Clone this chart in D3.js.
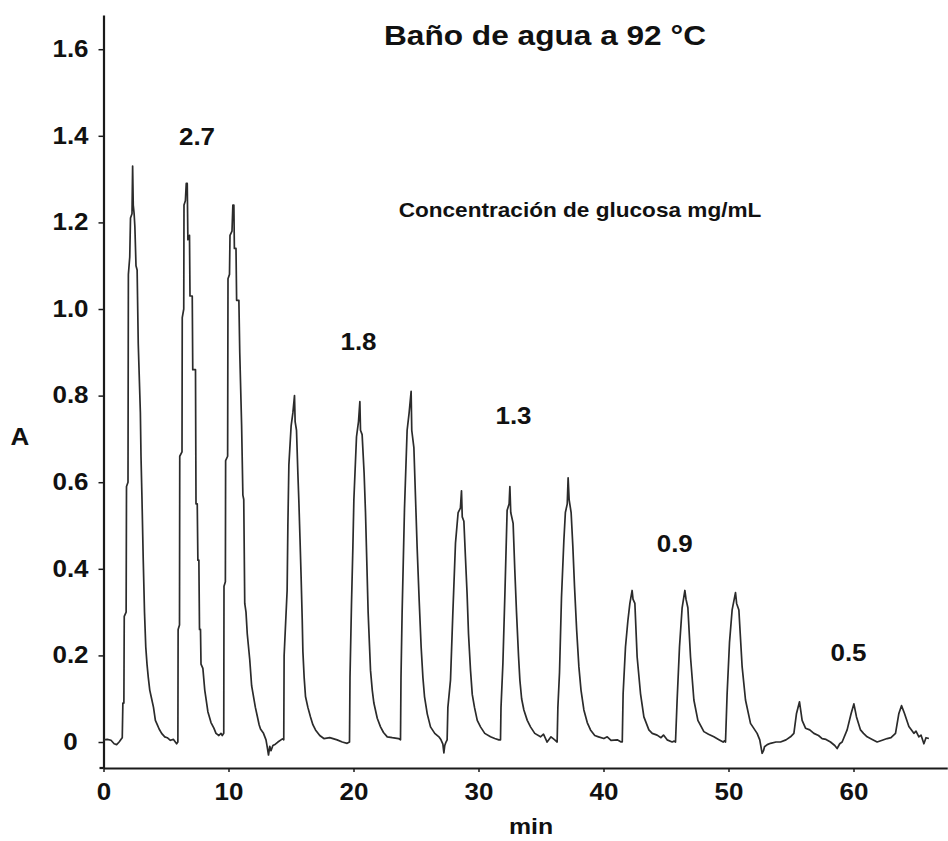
<!DOCTYPE html>
<html>
<head>
<meta charset="utf-8">
<script src="https://cdn.jsdelivr.net/npm/d3@7"></script>
<style>
  html, body { margin: 0; padding: 0; background: #fff; }
  svg { display: block; }
  text { font-family: "Liberation Sans", Arial, sans-serif; font-weight: bold; fill: #111; }
</style>
</head>
<body>
<svg id="chart" width="948" height="841"></svg>
<script>
// ---------------- data ----------------
const titleText = "Baño de agua a 92 °C";
const subtitleText = "Concentración de glucosa mg/mL";
const yAxisLabel = "A";
const xAxisLabel = "min";

const xTicks = [0, 10, 20, 30, 40, 50, 60];
const xTickLabels = ["0", "10", "20", "30", "40", "50", "60"];
const yTicks = [0, 0.2, 0.4, 0.6, 0.8, 1.0, 1.2, 1.4, 1.6];
const yTickLabels = ["0", "0.2", "0.4", "0.6", "0.8", "1.0", "1.2", "1.4", "1.6"];

// concentration annotations: [label, time (min), absorbance]
const concLabels = ["2.7", "1.8", "1.3", "0.9", "0.5"];
const concTime = [7.48, 20.4, 32.8, 45.7, 59.6];
const concAbs = [1.379, 0.905, 0.734, 0.439, 0.187];

// trace segments: [time (min), absorbance]
const baseline0 = [[0,0.005],[0.3,0.006],[0.6,0.004],[0.85,-0.004],[1.05,-0.006],[1.25,0.0],[1.45,0.008]];
const peak1 = [[1.5,0.01],[1.55,0.09],[1.63,0.09],[1.66,0.29],[1.81,0.30],[1.84,0.59],[1.96,0.60],[1.99,1.08],[2.1,1.12],[2.16,1.21],[2.28,1.22],[2.33,1.33],[2.38,1.24],[2.45,1.22],[2.51,1.19],[2.6,1.10],[2.69,1.09],[2.78,0.92],[2.95,0.76],[3.0,0.66],[3.08,0.56],[3.18,0.42],[3.28,0.30],[3.38,0.22],[3.48,0.18],[3.58,0.15],[3.7,0.12],[3.85,0.10],[4.0,0.08],[4.15,0.05],[4.3,0.04],[4.45,0.03],[4.65,0.02],[4.9,0.012],[5.1,0.01],[5.35,0.004],[5.6,0.006],[5.85,-0.004]];
const peak2 = [[5.95,0.0],[5.97,0.26],[6.08,0.27],[6.1,0.66],[6.28,0.67],[6.3,0.98],[6.42,1.0],[6.44,1.24],[6.55,1.25],[6.62,1.29],[6.7,1.29],[6.75,1.16],[6.88,1.17],[6.92,1.03],[7.1,1.03],[7.14,0.86],[7.36,0.86],[7.4,0.55],[7.5,0.55],[7.55,0.42],[7.63,0.42],[7.68,0.26],[7.76,0.26],[7.8,0.18],[7.95,0.17],[8.1,0.12],[8.2,0.10],[8.35,0.07],[8.45,0.06],[8.6,0.045],[8.83,0.032],[9.0,0.02],[9.23,0.015],[9.4,0.02]];
const peak3 = [[9.5,0.015],[9.62,0.02],[9.64,0.36],[9.75,0.37],[9.77,0.65],[9.93,0.66],[9.96,1.07],[10.08,1.08],[10.12,1.17],[10.28,1.18],[10.35,1.24],[10.43,1.24],[10.47,1.14],[10.6,1.14],[10.65,1.02],[10.83,1.02],[10.9,0.9],[11.05,0.73],[11.15,0.57],[11.22,0.56],[11.3,0.32],[11.4,0.30],[11.5,0.25],[11.7,0.19],[11.85,0.13],[11.97,0.11],[12.15,0.08],[12.3,0.06],[12.45,0.04],[12.56,0.03],[12.8,0.02],[13.0,0.005],[13.1,-0.012],[13.2,-0.03],[13.3,-0.01],[13.4,-0.02],[13.55,-0.008],[13.75,-0.005],[13.95,0.0],[14.2,0.005],[14.4,0.008]];
const peak4 = [[14.42,0.005],[14.45,0.2],[14.69,0.35],[14.75,0.5],[14.83,0.64],[15.01,0.73],[15.15,0.76],[15.28,0.80],[15.33,0.74],[15.44,0.72],[15.55,0.62],[15.63,0.555],[15.72,0.47],[15.81,0.38],[15.9,0.28],[15.95,0.21],[16.05,0.15],[16.16,0.105],[16.35,0.08],[16.56,0.058],[16.75,0.04],[16.96,0.028],[17.3,0.015],[17.63,0.008],[18.1,0.01],[18.69,0.005],[19.1,0.0],[19.49,-0.003]];
const peak5 = [[19.68,0.0],[19.72,0.15],[19.84,0.32],[19.95,0.45],[20.03,0.56],[20.24,0.705],[20.4,0.74],[20.51,0.786],[20.56,0.72],[20.69,0.71],[20.85,0.62],[20.96,0.53],[21.07,0.41],[21.17,0.30],[21.36,0.166],[21.5,0.12],[21.63,0.09],[21.9,0.055],[22.16,0.035],[22.4,0.022],[22.7,0.012],[23.1,0.01],[23.6,0.008]];
const peak6 = [[23.76,0.005],[23.8,0.15],[23.89,0.30],[24.08,0.54],[24.29,0.72],[24.45,0.76],[24.61,0.81],[24.66,0.72],[24.83,0.68],[25.0,0.53],[25.09,0.45],[25.25,0.33],[25.41,0.22],[25.55,0.15],[25.68,0.105],[25.9,0.065],[26.16,0.035],[26.5,0.02],[26.83,0.012],[27.0,0.005],[27.15,-0.005],[27.23,-0.025],[27.3,-0.008],[27.4,0.0]];
const peak7 = [[27.49,0.005],[27.55,0.08],[27.76,0.143],[27.95,0.30],[28.16,0.46],[28.37,0.53],[28.55,0.54],[28.64,0.58],[28.7,0.52],[28.83,0.51],[28.95,0.43],[29.09,0.34],[29.2,0.25],[29.36,0.166],[29.5,0.11],[29.68,0.08],[29.9,0.05],[30.16,0.035],[30.5,0.02],[30.96,0.012],[31.3,0.008],[31.63,0.005]];
const peak8 = [[31.76,0.005],[31.8,0.08],[31.95,0.18],[32.11,0.34],[32.29,0.535],[32.45,0.55],[32.51,0.59],[32.58,0.53],[32.77,0.505],[32.9,0.40],[33.04,0.30],[33.2,0.2],[33.31,0.143],[33.45,0.1],[33.63,0.074],[33.9,0.05],[34.16,0.035],[34.5,0.02],[34.96,0.012],[35.2,0.018],[35.49,0.0],[35.8,0.012],[36.1,0.005]];
const peak9 = [[36.29,0.0],[36.35,0.08],[36.48,0.16],[36.64,0.335],[36.83,0.466],[36.95,0.53],[37.1,0.55],[37.17,0.61],[37.25,0.56],[37.41,0.53],[37.55,0.45],[37.68,0.36],[37.85,0.26],[38.03,0.174],[38.2,0.12],[38.43,0.074],[38.7,0.045],[38.96,0.028],[39.3,0.015],[39.6,0.012],[40.03,0.008],[40.3,0.012],[40.6,0.004],[41.1,0.005],[41.41,0.0]];
const peak10 = [[41.5,0.0],[41.57,0.112],[41.76,0.22],[41.95,0.28],[42.11,0.32],[42.29,0.35],[42.36,0.33],[42.51,0.32],[42.69,0.197],[42.96,0.112],[43.23,0.058],[43.63,0.028],[43.9,0.02],[44.29,0.016],[44.6,0.01],[44.8,0.016],[45.09,0.005],[45.49,0.0],[45.65,0.002]];
const peak11 = [[45.76,0.0],[45.89,0.097],[46.08,0.22],[46.29,0.31],[46.51,0.35],[46.6,0.33],[46.75,0.31],[46.96,0.197],[47.23,0.097],[47.55,0.05],[48.03,0.024],[48.4,0.018],[48.83,0.012],[49.2,0.006],[49.57,0.0],[49.7,0.003]];
const peak12 = [[49.76,0.0],[49.89,0.112],[50.08,0.23],[50.29,0.305],[50.56,0.345],[50.65,0.32],[50.83,0.305],[51.09,0.174],[51.36,0.097],[51.76,0.043],[52.29,0.02],[52.5,0.005],[52.69,-0.026],[52.8,-0.02],[52.88,-0.011],[53.1,-0.006],[53.36,-0.003],[53.8,0.0],[54.16,0.0],[54.6,0.005],[54.96,0.012]];
const peak13 = [[55.23,0.02],[55.44,0.066],[55.68,0.093],[55.89,0.05],[56.16,0.032],[56.5,0.028],[56.83,0.02],[57.2,0.015],[57.49,0.008],[57.8,0.006],[58.16,0.0],[58.5,-0.008],[58.69,-0.015],[58.9,-0.004],[59.09,0.0],[59.49,0.028]];
const peak14 = [[59.81,0.066],[60.03,0.088],[60.24,0.058],[60.56,0.028],[60.8,0.02],[61.09,0.012],[61.5,0.006],[61.89,0.0],[62.3,0.004],[62.69,0.008],[63.0,0.01],[63.36,0.02]];
const peak15 = [[63.63,0.066],[63.84,0.084],[64.08,0.066],[64.43,0.036],[64.83,0.02],[65.0,0.025],[65.23,0.012],[65.4,0.016],[65.63,-0.004],[65.8,0.01],[66.03,0.008]];

const trace = [].concat(baseline0, peak1, peak2, peak3, peak4, peak5, peak6, peak7, peak8,
                        peak9, peak10, peak11, peak12, peak13, peak14, peak15);

// ---------------- drawing ----------------
const svg = d3.select("#chart");
const SX = 1.13; // horizontal stretch of lettering

const x = d3.scaleLinear().domain([0, 67.5]).range([103.5, 947.25]);
const y = d3.scaleLinear().domain([-0.06, 1.679]).range([768, 15]);

const axisColor = "#1a1a1a";

// X axis
const gx = svg.append("g")
  .attr("transform", `translate(0,${y.range()[0]})`)
  .call(d3.axisBottom(x).tickValues(xTicks).tickFormat((d, i) => xTickLabels[i])
        .tickSizeInner(4).tickSizeOuter(0).tickPadding(12));
gx.select(".domain").attr("stroke", axisColor).attr("stroke-width", 2.2);
gx.selectAll(".tick line").attr("stroke", axisColor).attr("stroke-width", 1.5);
gx.selectAll(".tick text")
  .attr("font-size", 23).attr("font-family", null)
  .attr("fill", "#111")
  .attr("transform", `scale(${SX},1)`);

// Y axis
const gy = svg.append("g")
  .attr("transform", `translate(${x(0)},0)`)
  .call(d3.axisLeft(y).tickValues(yTicks).tickFormat((d, i) => yTickLabels[i])
        .tickSizeInner(5).tickSizeOuter(0).tickPadding(14));
gy.select(".domain").attr("stroke", axisColor).attr("stroke-width", 2.2);
gy.selectAll(".tick line").attr("stroke", axisColor).attr("stroke-width", 1.5);
gy.selectAll(".tick text")
  .attr("font-size", 23).attr("font-family", null)
  .attr("fill", "#111")
  .attr("text-anchor", "middle")
  .attr("x", -33 / SX)
  .attr("transform", `scale(${SX},1)`);

// extend x-axis line slightly to the left of the y axis
svg.append("line")
  .attr("x1", x(0) - 4).attr("x2", x(0))
  .attr("y1", y.range()[0]).attr("y2", y.range()[0])
  .attr("stroke", axisColor).attr("stroke-width", 2.2);

// trace
const line = d3.line()
  .x(d => x(d[0]))
  .y(d => y(d[1]))
  .curve(d3.curveLinear);

svg.append("path")
  .datum(trace)
  .attr("fill", "none")
  .attr("stroke", "#2b2b2b")
  .attr("stroke-width", 1.7)
  .attr("stroke-linejoin", "round")
  .attr("d", line);

// helper for stretched text
function label(px, py, str, size, anchor) {
  svg.append("text")
    .attr("transform", `translate(${px},${py}) scale(${SX},1)`)
    .attr("text-anchor", anchor)
    .attr("font-size", size)
    .text(str);
}

// concentration annotations
concLabels.forEach((s, i) => label(x(concTime[i]), y(concAbs[i]), s, 23, "middle"));

// title, subtitle, axis labels
label(545, 45, titleText, 28, "middle");
label(580, 217, subtitleText, 20, "middle");
label(20, 445, yAxisLabel, 23, "middle");
label(531, 834, xAxisLabel, 22, "middle");
</script>
</body>
</html>
